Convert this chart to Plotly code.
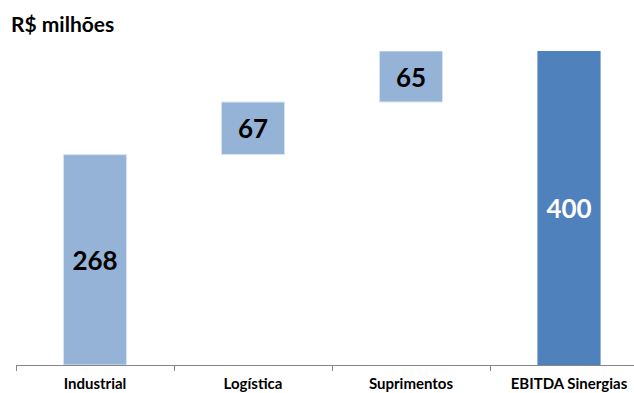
import plotly.graph_objects as go

categories = ["Industrial", "Logística", "Suprimentos", "EBITDA Sinergias"]
values = [268, 67, 65, 400]
measures = ["relative", "relative", "relative", "total"]
label_colors = ["black", "black", "black", "white"]
title_text = "R$ milhões"

FONT = "Lato, 'Open Sans', Arial, sans-serif"
W, H = 634, 393
ml, mr, mt, mb = 16, 0, 51, 28
plot_w = W - ml - mr
plot_h = H - mt - mb
cat_px = 158.0

fig = go.Figure(go.Waterfall(
    x=categories,
    y=values,
    measure=measures,
    width=0.4,
    text=[str(v) for v in values],
    texttemplate="%{text}",
    textposition="inside",
    insidetextanchor="middle",
    textangle=0,
    constraintext="none",
    insidetextfont=dict(family=FONT, size=26, color=label_colors, weight="bold"),
    increasing=dict(marker=dict(color="#95B3D7", line=dict(color="#DCE6F2", width=1))),
    totals=dict(marker=dict(color="#4F81BD", line=dict(color="#4F81BD", width=0))),
    connector=dict(visible=False),
    hoverinfo="skip",
))

fig.update_layout(
    width=W, height=H,
    margin=dict(l=ml, r=mr, t=mt, b=mb, pad=0, autoexpand=False),
    paper_bgcolor="white", plot_bgcolor="white",
    showlegend=False,
    font=dict(family=FONT, color="black"),
    xaxis=dict(
        range=[-0.5, -0.5 + plot_w / cat_px],
        automargin=False,
        showgrid=False, zeroline=False,
        showline=True, linecolor="#868686", linewidth=1,
        ticks="outside", tickson="boundaries", ticklen=5, tickcolor="#868686",
        ticklabelstandoff=5,
        tickfont=dict(family=FONT, size=15, color="black", weight="bold"),
        fixedrange=True,
    ),
    yaxis=dict(
        range=[0, 400],
        visible=False, showgrid=False, zeroline=False, fixedrange=True,
    ),
    annotations=[dict(
        text=title_text, xref="paper", yref="paper",
        x=(9 - ml) / plot_w, y=1 + (mt - 23) / plot_h,
        xanchor="left", yanchor="middle", showarrow=False,
        font=dict(family=FONT, size=21, color="black", weight="bold"),
    )],
)

fig.write_html("out.html")
